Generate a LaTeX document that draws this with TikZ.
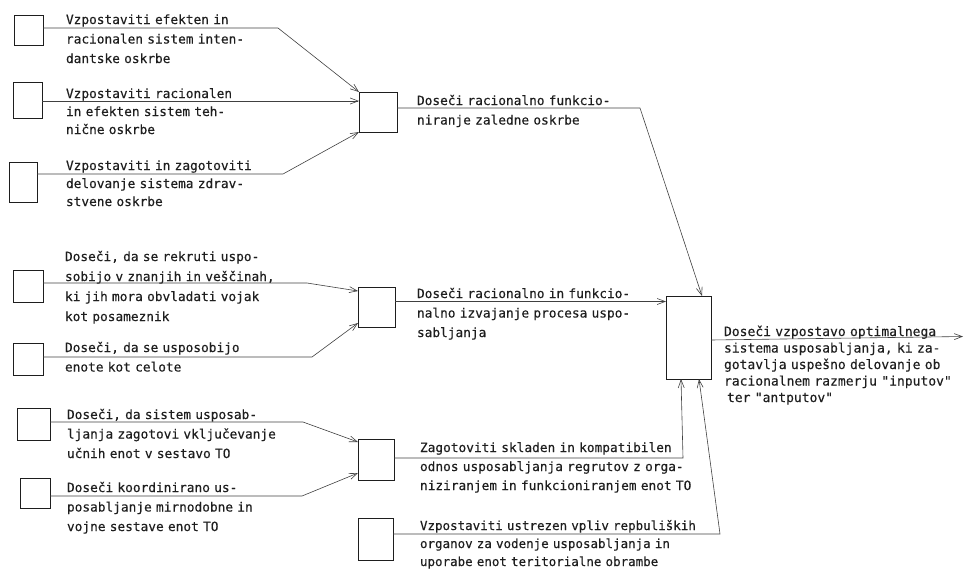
\documentclass[tikz,border=0pt]{standalone}
\usepackage{fontspec}
\newfontfamily\typew{DejaVu Sans Mono}[FakeBold=0.35]
\usetikzlibrary{arrows.meta,calc}
\definecolor{ink}{HTML}{1E1E1E}
\begin{document}
\begin{tikzpicture}[x=1pt,y=-1pt,
  sbox/.style={draw=ink,line width=0.8pt,inner sep=0pt,outer sep=0pt,anchor=north west},
  txt/.style={anchor=base west,inner sep=0pt,outer sep=0pt,text=ink,align=left,text width=330pt,
    font=\typew\fontsize{12.8}{19.5}\selectfont},
  conn/.style={draw=ink!85,line width=0.6pt},
  arr/.style={conn,-{Straight Barb[length=8pt,width=6pt]}}]
\useasboundingbox (0,0) rectangle (965,568);

% left boxes
\node[sbox,minimum width=29pt,minimum height=30pt] (b1) at (14,15) {};
\node[sbox,minimum width=29pt,minimum height=36pt] (b2) at (13,82) {};
\node[sbox,minimum width=28pt,minimum height=40pt] (b3) at (9,162) {};
\node[sbox,minimum width=30pt,minimum height=32pt] (b4) at (13,270) {};
\node[sbox,minimum width=30pt,minimum height=32pt] (b5) at (13,343) {};
\node[sbox,minimum width=33pt,minimum height=32pt] (b6) at (17,408) {};
\node[sbox,minimum width=30pt,minimum height=30pt] (b7) at (20,478) {};
% middle boxes
\node[sbox,minimum width=38pt,minimum height=40pt] (M1) at (359,92) {};
\node[sbox,minimum width=37pt,minimum height=40pt] (M2) at (358,287) {};
\node[sbox,minimum width=36pt,minimum height=41pt] (M3) at (358,439) {};
\node[sbox,minimum width=35pt,minimum height=42pt] (M4) at (358,518) {};
% big box
\node[sbox,minimum width=45pt,minimum height=83pt] (B) at (666,296) {};

% texts
\node[txt] (t1) at (66,24) {Vzpostaviti efekten in\\racionalen sistem inten-\\dantske oskrbe};
\node[txt,font=\typew\fontsize{12.8}{18}\selectfont] (t2) at (66,98) {Vzpostaviti racionalen\\in efekten sistem teh-\\nične oskrbe};
\node[txt,font=\typew\fontsize{12.8}{18}\selectfont] (t3) at (66,170) {Vzpostaviti in zagotoviti\\delovanje sistema zdrav-\\stvene oskrbe};
\node[txt] (m1) at (417,105) {Doseči racionalno funkcio-\\niranje zaledne oskrbe};
\node[txt,font=\typew\fontsize{12.8}{20}\selectfont] (t4) at (65,261) {Doseči, da se rekruti uspo-\\sobijo v znanjih in veščinah,\\ki jih mora obvladati vojak\\kot posameznik};
\node[txt] (t5) at (65,352) {Doseči, da se usposobijo\\enote kot celote};
\node[txt] (m2) at (417,298) {Doseči racionalno in funkcio-\\nalno izvajanje procesa uspo-\\sabljanja};
\node[txt] (t6) at (67,419) {Doseči, da sistem usposab-\\ljanja zagotovi vključevanje\\učnih enot v sestavo TO};
\node[txt] (t7) at (67,492) {Doseči koordinirano us-\\posabljanje mirnodobne in\\vojne sestave enot TO};
\node[txt,font=\typew\fontsize{12.8}{19}\selectfont] (m3) at (420,452) {Zagotoviti skladen in kompatibilen\\odnos usposabljanja regrutov z orga-\\niziranjem in funkcioniranjem enot TO};
\node[txt,font=\typew\fontsize{12.5}{18}\selectfont] (m4) at (420,530) {Vzpostaviti ustrezen vpliv repbuliških\\organov za vodenje usposabljanja in\\uporabe enot teritorialne obrambe};
\node[txt,text width=240pt,font=\typew\fontsize{13}{16.5}\selectfont] (out) at (724,336) {Doseči vzpostavo optimalnega\\sistema usposabljanja, ki za-\\gotavlja uspešno delovanje ob\\racionalnem razmerju "inputov"\\\hspace*{3pt}ter "antputov"};

% kink coordinates
\coordinate (k1) at (278,28);
\coordinate (k2) at (200,101);
\coordinate (k3) at (283,174);
\coordinate (k4) at (307,283);
\coordinate (k5) at (312,357);
\coordinate (k6) at (303,422);
\coordinate (k7) at (302,496);
\coordinate (km1) at (640,108);
\coordinate (km2) at (550,301.5);
\coordinate (km3) at (683,458);
\coordinate (km4) at (720,534);
\coordinate (kout) at (800,340);
\coordinate (kend) at (963,336.5);

% connectors
\draw[arr] (b1.east |- k1) -- (k1) -- (M1.north west);
\draw[arr] (b2.east |- k2) -- (M1.west |- k2);
\draw[arr] (b3.east |- k3) -- (k3) -- (M1.south west);
\draw[arr] (b4.east |- k4) -- (k4) -- ($(M2.north west)+(0,4)$);
\draw[arr] (b5.east |- k5) -- (k5) -- ($(M2.south west)+(0,-4)$);
\draw[arr] (b6.east |- k6) -- (k6) -- ($(M3.north west)+(0,3)$);
\draw[arr] (b7.east |- k7) -- (k7) -- ($(M3.south west)+(0,-7)$);
\draw[arr] (M1.east |- km1) -- (km1) -- ($(B.north west)+(36,0)$);
\draw[arr] (M2.east |- km2) -- (B.west |- km2);
\draw[arr] (M3.east |- km3) -- (km3) -- ($(B.south west)+(15,0)$);
\draw[arr] (M4.east |- km4) -- (km4) -- ($(B.south west)+(33,0)$);
\draw[arr] (B.east |- kout) -- (kend);
\end{tikzpicture}
\end{document}
